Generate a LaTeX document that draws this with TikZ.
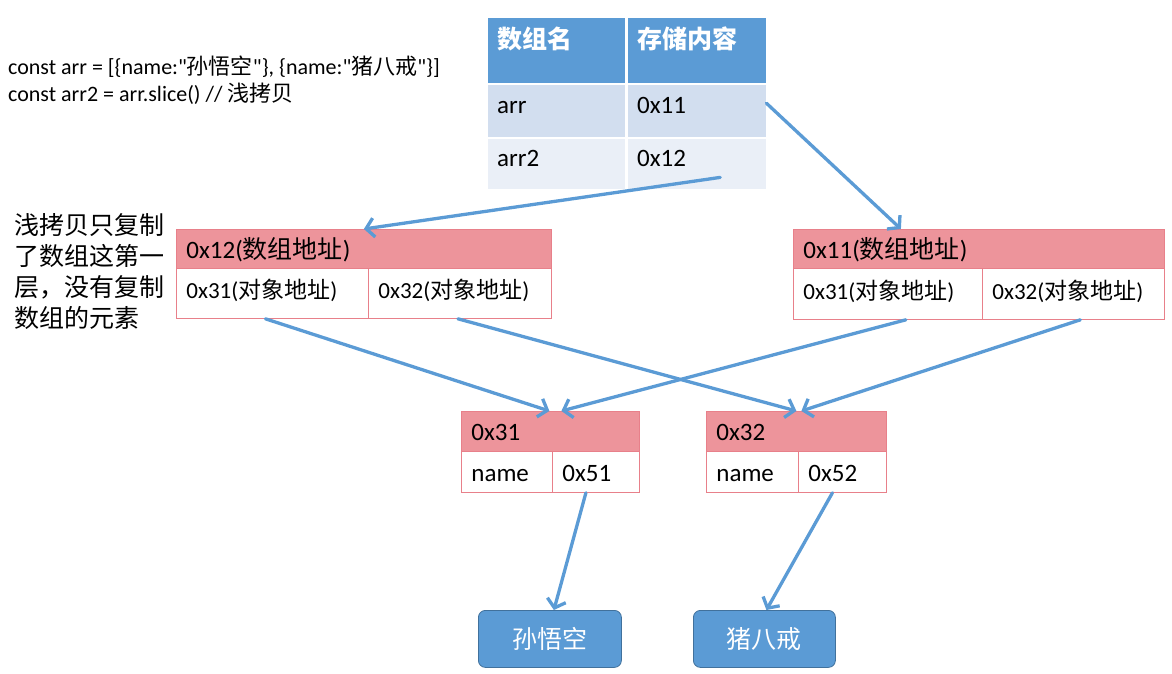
\documentclass[tikz,border=0pt]{standalone}
\usepackage{fontspec}
\setmainfont{Carlito}
\newfontfamily\cjk{Noto Sans CJK SC}
\usetikzlibrary{arrows.meta,positioning}
\definecolor{tblblue}{RGB}{91,155,213}
\definecolor{tblrowa}{RGB}{210,222,239}
\definecolor{tblrowb}{RGB}{234,239,247}
\definecolor{addrpink}{RGB}{237,148,155}
\definecolor{addrline}{RGB}{232,128,138}
\definecolor{valedge}{RGB}{65,113,156}

\begin{document}
\begin{tikzpicture}[x=1pt, y=-1pt,
    tcell/.style={anchor=north west, inner xsep=9pt, inner ysep=0pt,
                  align=left, text width=119pt, minimum height=0pt,
                  font=\fontsize{25}{28}\selectfont},
    cell/.style={anchor=north west, draw=addrline, line width=0.8pt,
                 inner xsep=10pt, inner ysep=0pt, align=left,
                 text height=17pt, text depth=6pt,
                 font=\fontsize{23}{26}\selectfont},
    low/.style={text height=21pt, text depth=2pt},
    head/.style={cell, low, fill=addrpink, font=\fontsize{25}{28}\selectfont},
    val/.style={anchor=north west, rounded corners=7pt, fill=tblblue,
                draw=valedge, line width=0.8pt, minimum width=143pt,
                minimum height=57pt, text=white,
                font=\cjk\fontsize{25}{28}\selectfont},
    ptr/.style={tblblue, line width=3.3pt, line cap=round,
                -{Straight Barb[length=8pt,width=19pt]}},
  ]
  \useasboundingbox (0,0) rectangle (1172,674);

  % Code
  \node[anchor=north west, align=left, inner sep=0pt,
        font=\fontsize{22}{27}\selectfont] (code) at (8,56)
    {const arr = [\{name:\textquotedbl{\cjk 孙悟空}\textquotedbl\},
     \{name:\textquotedbl{\cjk 猪八戒}\textquotedbl\}]\\
     const arr2 = arr.slice() // {\cjk 浅拷贝}};

  % Table
  \node[tcell, fill=tblblue, text=white,
        text height=30pt, text depth=35pt] (h1) at (488,18)
    {\cjk\bfseries 数组名};
  \node[tcell, fill=tblblue, text=white,
        text height=30pt, text depth=35pt, text width=120pt] (h2) at (628,18)
    {\cjk\bfseries 存储内容};
  \node[tcell, fill=tblrowa, text height=28pt, text depth=24pt]
    (r1a) at (488,85) {arr};
  \node[tcell, fill=tblrowa, text height=28pt, text depth=24pt,
        text width=120pt] (r1b) at (628,85) {0x11};
  \node[tcell, fill=tblrowb, text height=27pt, text depth=23pt]
    (r2a) at (488,139) {arr2};
  \node[tcell, fill=tblrowb, text height=27pt, text depth=23pt,
        text width=120pt] (r2b) at (628,139) {0x12};

  % Note
  \node[anchor=north west, align=left, inner sep=0pt,
        font=\cjk\fontsize{25}{31}\selectfont] (note) at (14,213)
    {浅拷贝只复制\\了数组这第一\\层，没有复制\\数组的元素};

  % Array 0x12
  \node[head, text width=355pt, minimum height=39pt] (a12h) at (176,229)
    {0x12({\cjk 数组地址})};
  \node[cell, text width=172pt, minimum height=50pt] (a12l) at (176,268)
    {0x31({\cjk 对象地址})};
  \node[cell, text width=163pt, minimum height=50pt] (a12r) at (368,268)
    {0x32({\cjk 对象地址})};

  % Array 0x11
  \node[head, text width=351pt, minimum height=39pt] (a11h) at (793,229)
    {0x11({\cjk 数组地址})};
  \node[cell, text width=169pt, minimum height=51pt] (a11l) at (793,268)
    {0x31({\cjk 对象地址})};
  \node[cell, text width=162pt, minimum height=51pt] (a11r) at (982,268)
    {0x32({\cjk 对象地址})};

  % Objects
  \node[head, text width=158pt, minimum height=40pt] (o31h) at (461,411) {0x31};
  \node[cell, low, text width=71pt, minimum height=41pt,
        font=\fontsize{25}{28}\selectfont] (o31l) at (461,451) {name};
  \node[cell, low, text width=67pt, minimum height=41pt,
        font=\fontsize{25}{28}\selectfont] (o31r) at (552,451) {0x51};
  \node[head, text width=160pt, minimum height=40pt] (o32h) at (706,411) {0x32};
  \node[cell, low, text width=72pt, minimum height=41pt,
        font=\fontsize{25}{28}\selectfont] (o32l) at (706,451) {name};
  \node[cell, low, text width=68pt, minimum height=41pt,
        font=\fontsize{25}{28}\selectfont] (o32r) at (798,451) {0x52};

  % Values
  \node[val] (v51) at (478,610) {孙悟空};
  \node[val, minimum width=142pt] (v52) at (693,610) {猪八戒};

  % Pointers
  \draw[ptr] ([yshift=8pt]r1b.east) -- ([xshift=-78pt]a11h.north);
  \draw[ptr] ([xshift=23pt,yshift=12pt]r2b.south) -- (a12h.north);
  \draw[ptr] ([xshift=-7pt]a12l.south) -- ([xshift=-1pt]o31h.north);
  \draw[ptr] ([xshift=-2pt]a12r.south) -- ([xshift=0pt]o32h.north);
  \draw[ptr] ([xshift=18pt]a11l.south) -- ([xshift=11pt]o31h.north);
  \draw[ptr] ([xshift=7pt]a11r.south) -- ([xshift=5pt]o32h.north);
  \draw[ptr] ([xshift=-10pt]o31r.south) -- ([xshift=4pt]v51.north);
  \draw[ptr] ([xshift=-10pt]o32r.south) -- ([xshift=2pt]v52.north);
\end{tikzpicture}
\end{document}
